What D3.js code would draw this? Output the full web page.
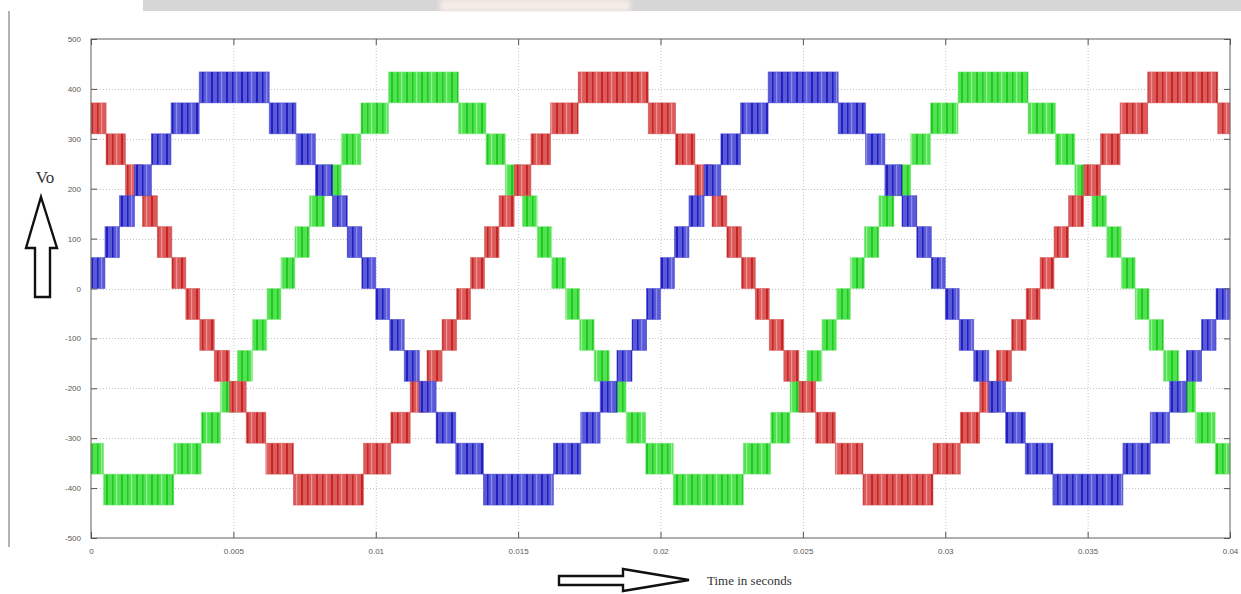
<!DOCTYPE html>
<html>
<head>
<meta charset="utf-8">
<script src="https://cdn.jsdelivr.net/npm/d3@7"></script>
<style>
  html, body { margin: 0; padding: 0; background: #ffffff; }
  svg { display: block; }
</style>
</head>
<body>
<svg id="chart" width="1241" height="594"></svg>
<script>
// Axis ticks
const timeTicks = [0, 0.005, 0.01, 0.015, 0.02, 0.025, 0.03, 0.035, 0.04];
const timeTickLabels = ["0", "0.005", "0.01", "0.015", "0.02", "0.025", "0.03", "0.035", "0.04"];
const voltTicks = [-500, -400, -300, -200, -100, 0, 100, 200, 300, 400, 500];
const voltTickLabels = ["-500", "-400", "-300", "-200", "-100", "0", "100", "200", "300", "400", "500"];

// Voltage step between adjacent inverter levels (V)
const levelStep = 62;

// Phase A (blue): switching instants (s) and the lower level of each band (V)
const blueEdges = [0, 0.00049, 0.00100, 0.00153, 0.00212, 0.00281, 0.00380, 0.00626, 0.00720, 0.00788, 0.00848, 0.00900, 0.00951, 0.01000,
  0.01049, 0.01100, 0.01153, 0.01212, 0.01281, 0.01378, 0.01624, 0.01720, 0.01788, 0.01847, 0.01900, 0.01951, 0.02000,
  0.02049, 0.02100, 0.02153, 0.02212, 0.02281, 0.02378, 0.02624, 0.02720, 0.02788, 0.02848, 0.02900, 0.02951, 0.03000,
  0.03049, 0.03100, 0.03153, 0.03212, 0.03281, 0.03378, 0.03624, 0.03720, 0.03788, 0.03847, 0.03900, 0.03951, 0.04000];
const blueLows = [0, 62, 124, 186, 248, 310, 372, 310, 248, 186, 124, 62, 0,
  -62, -124, -186, -248, -310, -372, -434, -372, -310, -248, -186, -124, -62,
  0, 62, 124, 186, 248, 310, 372, 310, 248, 186, 124, 62, 0,
  -62, -124, -186, -248, -310, -372, -434, -372, -310, -248, -186, -124, -62];

// Phase B (red)
const redEdges = [0, 0.00053, 0.00121, 0.00181, 0.00233, 0.00284, 0.00333, 0.00382, 0.00433, 0.00486, 0.00545, 0.00614, 0.00711, 0.00957,
  0.01053, 0.01121, 0.01180, 0.01233, 0.01284, 0.01333, 0.01382, 0.01433, 0.01486, 0.01545, 0.01614, 0.01711, 0.01957,
  0.02053, 0.02121, 0.02181, 0.02233, 0.02284, 0.02333, 0.02382, 0.02433, 0.02486, 0.02545, 0.02614, 0.02711, 0.02957,
  0.03053, 0.03121, 0.03180, 0.03233, 0.03284, 0.03333, 0.03382, 0.03433, 0.03486, 0.03545, 0.03614, 0.03711, 0.03957, 0.04000];
const redLows = [310, 248, 186, 124, 62, 0, -62, -124, -186, -248, -310, -372, -434,
  -372, -310, -248, -186, -124, -62, 0, 62, 124, 186, 248, 310, 372,
  310, 248, 186, 124, 62, 0, -62, -124, -186, -248, -310, -372, -434,
  -372, -310, -248, -186, -124, -62, 0, 62, 124, 186, 248, 310, 372, 310];

// Phase C (green)
const greenEdges = [0, 0.00044, 0.00291, 0.00387, 0.00455, 0.00514, 0.00567, 0.00618, 0.00667, 0.00716, 0.00767, 0.00820, 0.00879, 0.00948,
  0.01045, 0.01291, 0.01387, 0.01455, 0.01515, 0.01567, 0.01618, 0.01667, 0.01716, 0.01767, 0.01820, 0.01879, 0.01948,
  0.02045, 0.02291, 0.02387, 0.02455, 0.02514, 0.02567, 0.02618, 0.02667, 0.02716, 0.02767, 0.02820, 0.02879, 0.02948,
  0.03045, 0.03291, 0.03387, 0.03455, 0.03515, 0.03567, 0.03618, 0.03667, 0.03716, 0.03767, 0.03820, 0.03879, 0.03948, 0.04000];
const greenLows = [-372, -434, -372, -310, -248, -186, -124, -62, 0, 62, 124, 186, 248,
  310, 372, 310, 248, 186, 124, 62, 0, -62, -124, -186, -248, -310,
  -372, -434, -372, -310, -248, -186, -124, -62, 0, 62, 124, 186, 248,
  310, 372, 310, 248, 186, 124, 62, 0, -62, -124, -186, -248, -310, -372];

const svg = d3.select("#chart");
const x = d3.scaleLinear().domain([0, 0.04]).range([91, 1230]);
const y = d3.scaleLinear().domain([-500, 500]).range([538, 39]);

// Page header strip and left page rule
svg.append("rect").attr("x", 143).attr("y", 0).attr("width", 1098).attr("height", 11).attr("fill", "#d6d6d6");
const defs = svg.append("defs");
const blur = defs.append("filter").attr("id", "soft");
blur.append("feGaussianBlur").attr("stdDeviation", 2);
svg.append("rect").attr("x", 440).attr("y", 0).attr("width", 190).attr("height", 11)
  .attr("fill", "#f6ece6").attr("filter", "url(#soft)");
svg.append("line").attr("x1", 9).attr("x2", 9).attr("y1", 11).attr("y2", 547)
  .attr("stroke", "#9a9a9a").attr("stroke-width", 1.5);

// Stripe textures for the PWM bands
function stripePattern(id, bg, dark, light) {
  const p = defs.append("pattern").attr("id", id).attr("patternUnits", "userSpaceOnUse")
    .attr("width", 15).attr("height", 20);
  p.append("rect").attr("width", 15).attr("height", 20).attr("fill", bg);
  p.append("rect").attr("x", 1).attr("width", 2).attr("height", 20).attr("fill", dark);
  p.append("rect").attr("x", 7).attr("width", 1.5).attr("height", 20).attr("fill", dark);
  p.append("rect").attr("x", 11).attr("width", 1.2).attr("height", 20).attr("fill", light);
}
stripePattern("stripeBlue", "#5a5ad8", "#2020c0", "#8c8ce8");
stripePattern("stripeRed", "#dc5a5a", "#c42626", "#ee9494");
stripePattern("stripeGreen", "#50e250", "#22c822", "#96f196");

// Grid
const grid = svg.append("g").attr("stroke", "#c4c4c4").attr("stroke-width", 1).attr("stroke-dasharray", "1,2");
grid.selectAll("line.vx").data(timeTicks.slice(1, -1)).join("line")
  .attr("x1", d => x(d) + 0.5).attr("x2", d => x(d) + 0.5).attr("y1", y(500)).attr("y2", y(-500));
grid.selectAll("line.hy").data(voltTicks.slice(1, -1)).join("line")
  .attr("y1", d => Math.round(y(d)) + 0.5).attr("y2", d => Math.round(y(d)) + 0.5).attr("x1", x(0)).attr("x2", x(0.04));

// Bands
function drawPhase(edges, lows, fill, edgeColor) {
  const segs = lows.map((lo, i) => ({ t0: edges[i], t1: edges[i + 1], lo: lo }));
  svg.append("g").selectAll("rect").data(segs).join("rect")
    .attr("x", d => x(d.t0))
    .attr("width", d => x(d.t1) - x(d.t0))
    .attr("y", d => y(d.lo + levelStep))
    .attr("height", d => y(d.lo) - y(d.lo + levelStep))
    .attr("fill", fill)
    .attr("stroke", edgeColor).attr("stroke-width", 0.8).attr("stroke-opacity", 0.6);
}
drawPhase(greenEdges, greenLows, "url(#stripeGreen)", "#7ae87a");
drawPhase(redEdges, redLows, "url(#stripeRed)", "#d04a4a");
drawPhase(blueEdges, blueLows, "url(#stripeBlue)", "#3a3ad0");

// Frame and axes
const axisColor = "#7a7a7a";
svg.append("rect").attr("x", x(0)).attr("y", y(500)).attr("width", x(0.04) - x(0)).attr("height", y(-500) - y(500))
  .attr("fill", "none").attr("stroke", axisColor).attr("stroke-width", 1.2);

const xAxis = d3.axisBottom(x).tickValues(timeTicks).tickFormat((d, i) => timeTickLabels[i]).tickSizeInner(-6).tickSizeOuter(0).tickPadding(10);
const gx = svg.append("g").attr("transform", `translate(0,${y(-500)})`).call(xAxis);
const xTop = d3.axisTop(x).tickValues(timeTicks).tickFormat("").tickSizeInner(-6).tickSizeOuter(0);
const gxt = svg.append("g").attr("transform", `translate(0,${y(500)})`).call(xTop);

const yAxis = d3.axisLeft(y).tickValues(voltTicks).tickFormat((d, i) => voltTickLabels[i]).tickSizeInner(-6).tickSizeOuter(0).tickPadding(10);
const gy = svg.append("g").attr("transform", `translate(${x(0)},0)`).call(yAxis);
const yRight = d3.axisRight(y).tickValues(voltTicks).tickFormat("").tickSizeInner(-6).tickSizeOuter(0);
const gyr = svg.append("g").attr("transform", `translate(${x(0.04)},0)`).call(yRight);

[gx, gxt, gy, gyr].forEach(g => {
  g.select(".domain").remove();
  g.selectAll(".tick line").attr("stroke", "#555").attr("stroke-width", 1);
  g.selectAll(".tick text").attr("fill", "#5a5a5a").attr("font-family", "Liberation Sans, Arial, sans-serif")
    .attr("font-size", 8);
});

// Axis captions with outline arrows
const serif = "Liberation Serif, Times New Roman, serif";
svg.append("text").attr("x", 45).attr("y", 183).attr("text-anchor", "middle")
  .attr("font-family", serif).attr("font-size", 17).attr("fill", "#333").text("Vo");
svg.append("path")
  .attr("d", "M41,197 L57,248 L50,248 L50,297 L35,297 L35,248 L26,248 Z")
  .attr("fill", "#fff").attr("stroke", "#111").attr("stroke-width", 2.4).attr("stroke-linejoin", "miter");

svg.append("path")
  .attr("d", "M559,576 L623,576 L623,569 L689,580 L623,591 L623,585 L559,585 Z")
  .attr("fill", "#fff").attr("stroke", "#111").attr("stroke-width", 2.4).attr("stroke-linejoin", "miter");
svg.append("text").attr("x", 707).attr("y", 585)
  .attr("font-family", serif).attr("font-size", 13).attr("fill", "#333").text("Time in seconds");
</script>
</body>
</html>
